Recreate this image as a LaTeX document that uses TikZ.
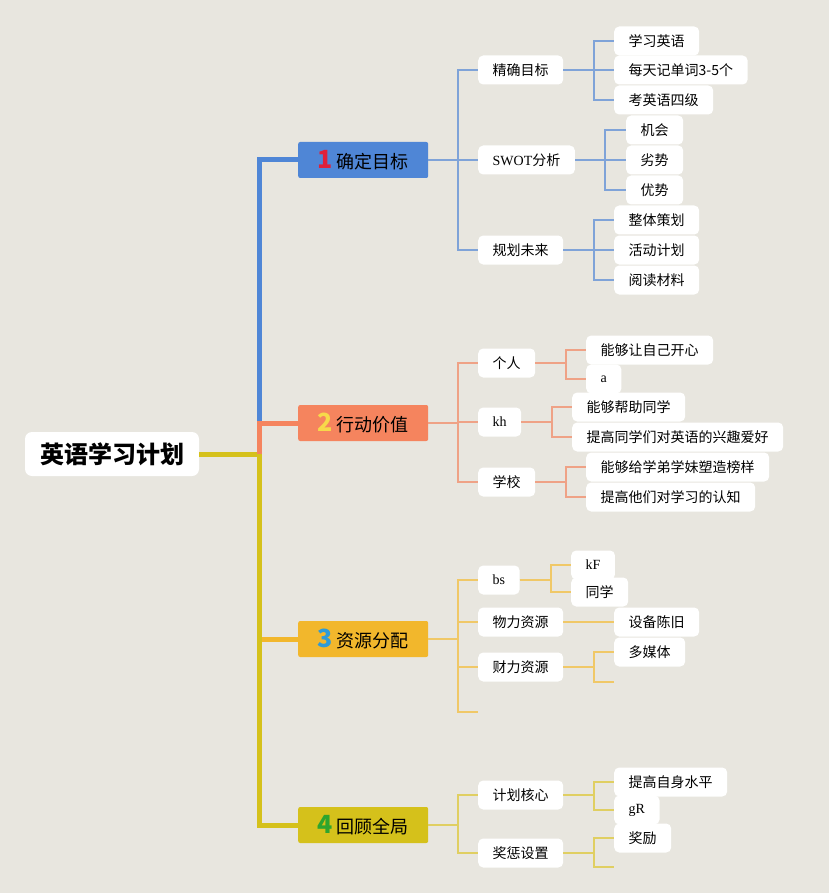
\documentclass[tikz,border=0pt]{standalone}
\usepackage{fontspec}
\setmainfont{Liberation Serif}
\newfontfamily\cjk{Noto Sans CJK SC}
\newcommand\latn[1]{{\rmfamily #1}}

\definecolor{bg}{HTML}{E8E6DF}
\definecolor{blueA}{HTML}{4F86D6}
\definecolor{blueL}{HTML}{7FA3D8}
\definecolor{orangeA}{HTML}{F5845E}
\definecolor{orangeL}{HTML}{EFA286}
\definecolor{yellowA}{HTML}{F2B72C}
\definecolor{yellowL}{HTML}{F0C867}
\definecolor{oliveA}{HTML}{D5C11B}
\definecolor{oliveL}{HTML}{E0CF62}
\definecolor{numred}{HTML}{E0203A}
\definecolor{numyellow}{HTML}{F7D94A}
\definecolor{numblue}{HTML}{2E9BD8}
\definecolor{numgreen}{HTML}{2EA52E}

\tikzset{
  root/.style={fill=white, rounded corners=7pt, inner xsep=15pt, minimum height=44pt,
    font=\fontsize{24}{24}\selectfont\cjk\bfseries},
  topic/.style={rounded corners=2pt, minimum width=130pt, minimum height=36pt, anchor=west,
    font=\fontsize{18}{18}\selectfont\cjk},
  leaf/.style={fill=white, rounded corners=5pt, inner xsep=14.5pt, inner ysep=0pt,
    minimum height=29pt, anchor=west, font=\fontsize{14}{14}\selectfont\cjk},
  num/.style={font=\fontsize{25}{25}\selectfont\cjk\bfseries},
  trunk/.style={line width=5pt},
  stem/.style={line width=2.2pt},
  twig/.style={line width=1.2pt}
}

\begin{document}
\begin{tikzpicture}[x=1pt, y=-1pt]
    \fill[bg] (0,0) rectangle (829,893);
    \useasboundingbox (0,0) rectangle (829,893);

    % Centras
    \node[root] (root) at (112,454) {英语学习计划};

    % Temos
    \node[topic, fill=blueA] (b1) at (298,160) {{\color{numred}\fontsize{25}{25}\selectfont\bfseries 1} 确定目标};
    \node[topic, fill=orangeA] (b2) at (298,423) {{\color{numyellow}\fontsize{25}{25}\selectfont\bfseries 2} 行动价值};
    \node[topic, fill=yellowA] (b3) at (298,639) {{\color{numblue}\fontsize{25}{25}\selectfont\bfseries 3} 资源分配};
    \node[topic, fill=oliveA] (b4) at (298,825) {{\color{numgreen}\fontsize{25}{25}\selectfont\bfseries 4} 回顾全局};

    \draw[trunk, blueA] (root.east) -- (259,454) |- (b1.west);
    \draw[trunk, yellowA] (root.east) -- (259,454) |- (b3.west);
    \draw[trunk, oliveA] (root.east) -- (259,454) |- (b4.west);
    \draw[trunk, orangeA] (259,454) |- (b2.west);

    % 1 saka
    \node[leaf] (s11) at (478,70) {精确目标};
    \node[leaf] (s12) at (478,160) {\latn{SWOT}分析};
    \node[leaf] (s13) at (478,250) {规划未来};
    \foreach \s in {s11,s12,s13}
        \draw[twig, blueL] (b1.east) -- (458,160) |- (\s.west);
    \draw[stem, blueL] (b1.east) -- (458,160);

    \node[leaf] (l111) at (614,41) {学习英语};
    \node[leaf] (l112) at (614,70) {每天记单词3-5个};
    \node[leaf] (l113) at (614,100) {考英语四级};
    \node[leaf] (l121) at (626,130) {机会};
    \node[leaf] (l122) at (626,160) {劣势};
    \node[leaf] (l123) at (626,190) {优势};
    \node[leaf] (l131) at (614,220) {整体策划};
    \node[leaf] (l132) at (614,250) {活动计划};
    \node[leaf] (l133) at (614,280) {阅读材料};
    \foreach \l in {l111,l112,l113}
        \draw[twig, blueL] (s11.east) -- (594,70) |- (\l.west);
    \foreach \l in {l121,l122,l123}
        \draw[twig, blueL] (s12.east) -- (605,160) |- (\l.west);
    \foreach \l in {l131,l132,l133}
        \draw[twig, blueL] (s13.east) -- (594,250) |- (\l.west);
    \draw[stem, blueL] (s11.east) -- (594,70);
    \draw[stem, blueL] (s12.east) -- (605,160);
    \draw[stem, blueL] (s13.east) -- (594,250);

    % 2 saka
    \node[leaf] (s21) at (478,363) {个人};
    \node[leaf] (s22) at (478,422) {\latn{kh}};
    \node[leaf] (s23) at (478,482) {学校};
    \foreach \s in {s21,s22,s23}
        \draw[twig, orangeL] (b2.east) -- (458,423) |- (\s.west);
    \draw[stem, orangeL] (b2.east) -- (458,423);

    \node[leaf] (l211) at (586,350) {能够让自己开心};
    \node[leaf] (l212) at (586,379) {\latn{a}};
    \node[leaf] (l221) at (572,407) {能够帮助同学};
    \node[leaf] (l222) at (572,437) {提高同学们对英语的兴趣爱好};
    \node[leaf] (l231) at (586,467) {能够给学弟学妹塑造榜样};
    \node[leaf] (l232) at (586,497) {提高他们对学习的认知};
    \foreach \l in {l211,l212}
        \draw[twig, orangeL] (s21.east) -- (566,363) |- (\l.west);
    \foreach \l in {l221,l222}
        \draw[twig, orangeL] (s22.east) -- (552,422) |- (\l.west);
    \foreach \l in {l231,l232}
        \draw[twig, orangeL] (s23.east) -- (566,482) |- (\l.west);
    \draw[stem, orangeL] (s21.east) -- (566,363);
    \draw[stem, orangeL] (s22.east) -- (552,422);
    \draw[stem, orangeL] (s23.east) -- (566,482);

    % 3 saka
    \node[leaf] (s31) at (478,580) {\latn{bs}};
    \node[leaf] (s32) at (478,622) {物力资源};
    \node[leaf] (s33) at (478,667) {财力资源};
    \coordinate (s34) at (478,712);
    \foreach \s in {s31,s32,s33,s34}
        \draw[twig, yellowL] (b3.east) -- (458,639) |- (\s.west);
    \draw[stem, yellowL] (b3.east) -- (458,639);

    \node[leaf] (l311) at (571,565) {\latn{kF}};
    \node[leaf] (l312) at (571,592) {同学};
    \node[leaf] (l321) at (614,622) {设备陈旧};
    \node[leaf] (l331) at (614,652) {多媒体};
    \coordinate (l332) at (614,682);
    \foreach \l in {l311,l312}
        \draw[twig, yellowL] (s31.east) -- (551,580) |- (\l.west);
    \draw[twig, yellowL] (s32.east) -- (l321.west);
    \foreach \l in {l331,l332}
        \draw[twig, yellowL] (s33.east) -- (594,667) |- (\l.west);
    \draw[stem, yellowL] (s31.east) -- (551,580);
    \draw[stem, yellowL] (s33.east) -- (594,667);

    % 4 saka
    \node[leaf] (s41) at (478,795) {计划核心};
    \node[leaf] (s42) at (478,853) {奖惩设置};
    \foreach \s in {s41,s42}
        \draw[twig, oliveL] (b4.east) -- (458,825) |- (\s.west);
    \draw[stem, oliveL] (b4.east) -- (458,825);

    \node[leaf] (l411) at (614,782) {提高自身水平};
    \node[leaf] (l412) at (614,810) {\latn{gR}};
    \node[leaf] (l421) at (614,838) {奖励};
    \coordinate (l422) at (614,867);
    \foreach \l in {l411,l412}
        \draw[twig, oliveL] (s41.east) -- (594,795) |- (\l.west);
    \foreach \l in {l421,l422}
        \draw[twig, oliveL] (s42.east) -- (594,853) |- (\l.west);
    \draw[stem, oliveL] (s41.east) -- (594,795);
    \draw[stem, oliveL] (s42.east) -- (594,853);
\end{tikzpicture}
\end{document}
